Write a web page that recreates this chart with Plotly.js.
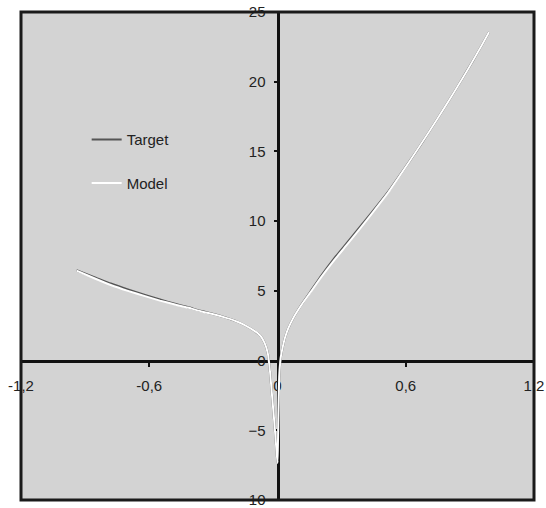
<!DOCTYPE html>
<html>
<head>
<meta charset="utf-8">
<script src="https://cdn.plot.ly/plotly-3.0.1.min.js"></script>
<style>html,body{margin:0;padding:0;background:#fff;}#chart{width:546px;height:508px;}</style>
</head>
<body>
<div id="chart"></div>
<script>
var xValues = [-0.94,-0.86,-0.78,-0.70,-0.62,-0.55,-0.48,-0.42,-0.36,-0.30,-0.24,-0.19,-0.145,-0.11,-0.08,-0.06,-0.045,-0.035,-0.025,-0.015,-0.007,0,
  0.004,0.008,0.015,0.025,0.035,0.05,0.074,0.113,0.152,0.207,0.26,0.324,0.385,0.448,0.52,0.589,0.65,0.713,0.77,0.823,0.87,0.916,0.955,0.99];
var targetY = [6.47,6.00,5.52,5.10,4.70,4.37,4.07,3.83,3.56,3.33,3.07,2.80,2.47,2.15,1.78,1.25,0.5,-0.8,-2.6,-4.4,-6.0,-7.35,
  -4.1,-1.2,0.2,1.0,1.64,2.3,3.06,4.03,4.9,6.13,7.22,8.42,9.56,10.75,12.15,13.66,15.03,16.5,17.87,19.17,20.36,21.55,22.6,23.57];
var modelY = [6.45,5.92,5.42,5.00,4.62,4.30,4.02,3.80,3.54,3.32,3.06,2.80,2.47,2.15,1.78,1.25,0.5,-0.8,-2.6,-4.4,-6.0,-7.35,
  -4.1,-1.2,0.2,1.0,1.64,2.3,3.06,4.01,4.85,6.04,7.1,8.29,9.45,10.67,12.1,13.64,15.03,16.5,17.87,19.17,20.36,21.55,22.6,23.57];
var xTickVals = [-1.2,-0.6,0,0.6,1.2];
var xTickText = ['-1,2','-0,6','0','0,6','1,2'];
var yTickVals = [-10,-5,0,5,10,15,20,25];

var font = {family:'"Liberation Sans", Arial, sans-serif', size:15, color:'#222'};

var traces = [
  {x:xValues, y:targetY, name:'Target', type:'scatter', mode:'lines', legendgroup:'a',
   line:{color:'#555555', width:2.2, shape:'spline', smoothing:0.5}},
  {x:xValues, y:modelY, name:'Model', type:'scatter', mode:'lines', legendgroup:'b',
   line:{color:'#ffffff', width:2, shape:'spline', smoothing:0.5}}
];

var layout = {
  width:546, height:508,
  margin:{l:21, r:12, t:12, b:8, pad:0},
  paper_bgcolor:'#ffffff', plot_bgcolor:'#d3d3d3',
  font:font,
  showlegend:true,
  legend:{x:0.128, y:0.772, xanchor:'left', yanchor:'top', bgcolor:'rgba(0,0,0,0)',
    font:font, tracegroupgap:21, traceorder:'grouped'},
  xaxis:{range:[-1.2,1.2], anchor:'free', position:10/35, tickvals:xTickVals, ticktext:xTickText,
    showline:true, linecolor:'#111', linewidth:3, ticks:'outside', ticklen:4, tickwidth:2, tickcolor:'#111',
    showgrid:false, zeroline:false, layer:'below traces', ticklabelstandoff:6, ticklabeloverflow:'allow',
    tickfont:font, fixedrange:true},
  yaxis:{range:[-10,25], anchor:'free', position:0.5, tickvals:yTickVals,
    showline:true, linecolor:'#111', linewidth:3, ticks:'outside', ticklen:3, tickwidth:2, tickcolor:'#111',
    showgrid:false, zeroline:false, layer:'below traces', ticklabelstandoff:5, ticklabeloverflow:'allow',
    tickfont:font, fixedrange:true},
  shapes:[{type:'rect', xref:'paper', yref:'paper', x0:0, x1:1, y0:0, y1:1,
    line:{color:'#1a1a1a', width:3}, layer:'above'}]
};

Plotly.newPlot('chart', traces, layout, {displayModeBar:false, staticPlot:true});
</script>
</body>
</html>
